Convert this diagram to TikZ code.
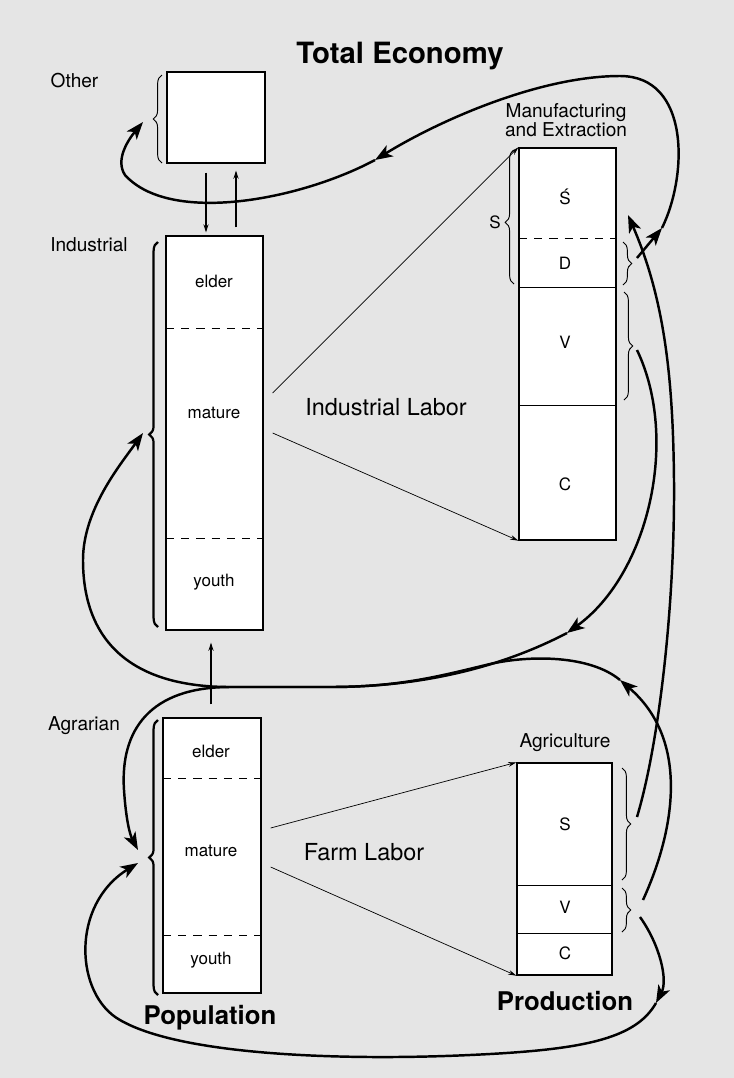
\documentclass[tikz,border=0pt]{standalone}
\usepackage{fontspec}
\setmainfont{TeX Gyre Heros}
\usetikzlibrary{arrows.meta,decorations.pathreplacing}
\definecolor{paper}{RGB}{229,229,229}

\begin{document}
\begin{tikzpicture}[x=0.03cm,y=-0.03cm,
    box/.style={draw,fill=white,line width=1.1pt,inner sep=0pt},
    lbl/.style={font=\fontsize{16.3}{16.5}\selectfont},
    cell/.style={font=\fontsize{14.5}{17}\selectfont},
    big/.style={font=\fontsize{20}{24}\selectfont},
    heavy/.style={font=\bfseries\fontsize{22}{26}\selectfont},
    split/.style={line width=0.8pt,dash pattern=on 7pt off 6pt},
    rule/.style={line width=0.6pt},
    brc/.style={decorate,decoration={brace,amplitude=7.5pt,aspect=#1},line width=0.8pt},
    brc/.default=0.5,
    thickbrc/.style={decorate,decoration={brace,amplitude=7.5pt},line width=1.9pt},
    flow/.style={line width=2.1pt,-{Stealth[length=15pt,width=11pt,inset=4pt]}},
    labor/.style={line width=0.6pt,-{Stealth[length=7pt,width=4pt]}},
    move/.style={line width=0.9pt,-{Stealth[length=7pt,width=4.5pt]}}]
\useasboundingbox (0,0) rectangle (734,1078);
\fill[paper] (0,0) rectangle (734,1078);

% headings
\node[font=\bfseries\fontsize{25}{30}\selectfont] (title) at (400,56) {Total Economy};
\node[lbl] (otherLbl) at (74.5,81) {Other};
\node[lbl] (indLbl) at (89,245) {Industrial};
\node[lbl] (agrLbl) at (84,726) {Agrarian};
\node[lbl,align=center] (manuLbl) at (566,120) {Manufacturing\\and Extraction};
\node[lbl] (agriLbl) at (565,743) {Agriculture};
\node[heavy] (popLbl) at (210,1018) {Population};
\node[heavy] (prodLbl) at (565,1001) {Production};
\node[big] (indLabor) at (386,407) {Industrial Labor};
\node[big] (farmLabor) at (364,852) {Farm Labor};

% population boxes
\node[box,minimum width=2.94cm,minimum height=2.73cm] (other) at (216,117.5) {};
\node[box,minimum width=2.91cm,minimum height=11.82cm] (ind) at (214.5,433) {};
\node[box,minimum width=2.94cm,minimum height=8.25cm] (agr) at (212,855.5) {};
\draw[split] (166,328) -- (263,328);
\draw[split] (166,538) -- (263,538);
\draw[split] (163,778) -- (261,778);
\draw[split] (163,935) -- (261,935);
\node[cell] (indElder) at (214,281) {elder};
\node[cell] (indMature) at (214,413) {mature};
\node[cell] (indYouth) at (214,582) {youth};
\node[cell] (agrElder) at (211,751) {elder};
\node[cell] (agrMature) at (211,851) {mature};
\node[cell] (agrYouth) at (211,960) {youth};

% production boxes
\node[box,minimum width=2.91cm,minimum height=11.76cm] (manu) at (567.5,344) {};
\node[box,minimum width=2.85cm,minimum height=6.36cm] (agri) at (564.5,869) {};
\draw[split] (519,238) -- (616,238);
\draw[rule] (519,287) -- (616,287);
\draw[rule] (519,405) -- (616,405);
\draw[rule] (517,885) -- (612,885);
\draw[rule] (517,933) -- (612,933);
\node[cell] (manuS) at (565,197) {\'S};
\node[cell] (manuD) at (565,263) {D};
\node[cell] (manuV) at (565,342) {V};
\node[cell] (manuC) at (565,484) {C};
\node[cell] (agriS) at (565,824) {S};
\node[cell] (agriV) at (565,907) {V};
\node[cell] (agriC) at (565,953) {C};
\node[cell] (sLbl) at (495,222) {S};

% braces
\draw[brc] (162,163) -- (162,75);
\draw[thickbrc] (158,627) -- (158,242);
\draw[thickbrc] (158,995) -- (158,720);
\draw[brc=0.46] (514,284) -- (514,150);
\draw[brc] (623,242) -- (623,285);
\draw[brc] (624,292) -- (624,400);
\draw[brc] (622,768) -- (622,880);
\draw[brc] (622,888) -- (622,932);

\coordinate (otherIn) at (143,122);
\coordinate (indIn) at (143,433);
\coordinate (agrIn) at (138,850);
\coordinate (agrIn2) at (138,863);
\coordinate (dOut) at (637,258);
\coordinate (manuVOut) at (637,350);
\coordinate (manuIn) at (628,215);
\coordinate (agriSOut) at (637,817);
\coordinate (agriVOut) at (643,900);
\coordinate (agriVDown) at (640,917);
\coordinate (dMid) at (662,228);
\coordinate (topMid) at (375,160);
\coordinate (manuVMid) at (567,633);
\coordinate (agriVMid) at (620,680);
\coordinate (bottomMid) at (656,1003);

% labor
\draw[labor] ([shift={(9,-40)}]ind.east) -- (manu.north west);
\draw[labor] ([shift={(9,0)}]ind.east) -- (manu.south west);
\draw[labor] ([shift={(9,-27.5)}]agr.east) -- (agri.north west);
\draw[labor] ([shift={(9,11.5)}]agr.east) -- (agri.south west);

% moves between classes
\draw[move] ([shift={(-10,9)}]other.south) -- ([shift={(-8.5,-3)}]ind.north);
\draw[move] ([shift={(21.5,-8)}]ind.north) -- ([shift={(20,7)}]other.south);
\draw[move] ([shift={(-1,-13)}]agr.north) -- ([shift={(-3.5,12)}]ind.south);

% flows
\draw[flow] (dOut) -- (dMid);
\draw[flow] (dMid) .. controls (688,175) and (690,76) .. (620,76)
    .. controls (540,76) and (440,120) .. (topMid);
\draw[flow] (topMid) .. controls (300,200) and (170,225) .. (125,175)
    .. controls (115,160) and (128,140) .. (otherIn);
\draw[flow] (agriSOut) .. controls (660,740) and (675,600) .. (674,480)
    .. controls (673,380) and (665,300) .. (manuIn);
\draw[flow] (manuVOut) .. controls (680,440) and (648,575) .. (manuVMid);
\draw[flow] (manuVMid) .. controls (500,668) and (420,687) .. (330,687) -- (230,687)
    .. controls (130,687) and (83,640) .. (83,560)
    .. controls (83,510) and (120,465) .. (indIn);
\draw[flow] (agriVOut) .. controls (675,830) and (690,740) .. (agriVMid);
\draw[flow] (agriVMid) .. controls (590,655) and (530,655) .. (490,664)
    .. controls (440,676) and (400,687) .. (330,687) -- (230,687)
    .. controls (150,687) and (120,730) .. (124,790)
    .. controls (126,820) and (130,835) .. (agrIn);
\draw[flow] (agriVDown) .. controls (660,945) and (668,980) .. (bottomMid);
\draw[flow] (bottomMid) .. controls (635,1040) and (580,1050) .. (470,1055)
    .. controls (340,1061) and (180,1055) .. (120,1020)
    .. controls (75,995) and (70,905) .. (agrIn2);
\end{tikzpicture}
\end{document}
